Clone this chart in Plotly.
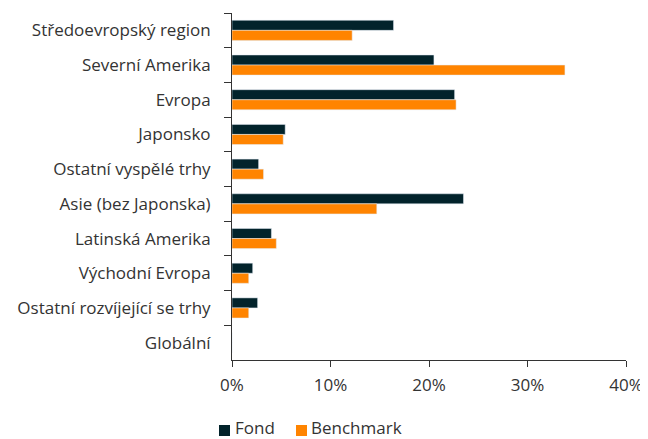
import plotly.graph_objects as go

categories = ["Středoevropský region", "Severní Amerika", "Evropa", "Japonsko",
              "Ostatní vyspělé trhy", "Asie (bez Japonska)", "Latinská Amerika",
              "Východní Evropa", "Ostatní rozvíjející se trhy", "Globální"]
fond = [16.4, 20.5, 22.6, 5.4, 2.7, 23.5, 4.0, 2.1, 2.6, 0.0]
benchmark = [12.2, 33.8, 22.75, 5.2, 3.2, 14.7, 4.5, 1.7, 1.7, 0.0]
x_ticks = [0, 10, 20, 30, 40]
x_labels = ["0%", "10%", "20%", "30%", "40%"]
series_names = ["Fond", "Benchmark"]
series_colors = ["#02232B", "#FF8400"]

FONT = "Open Sans"
FS = 17

fig = go.Figure()
fig.add_trace(go.Bar(y=categories, x=fond, name=series_names[0], orientation="h",
                     marker=dict(color=series_colors[0])))
fig.add_trace(go.Bar(y=categories, x=benchmark, name=series_names[1], orientation="h",
                     marker=dict(color=series_colors[1])))

# page has an 8px body margin: size the figure to fill the rest of the window
OFF = 8
W, H = 648 - OFF, 439 - OFF
# plot area in page pixels
X0, X1, Y0, Y1 = 232, 626, 13, 360
L, R, T, B = X0 - OFF, (W + OFF) - X1, Y0 - OFF, (H + OFF) - Y1
pw, ph = X1 - X0, Y1 - Y0


def px(xp):
    return (xp - X0) / pw


def py(yp):
    return (Y1 - yp) / ph


# custom legend (small squares close to text, as in the reference)
legend_items = [(219, 234), (296, 310)]
for (sq_x, tx), name, col in zip(legend_items, series_names, series_colors):
    fig.add_shape(type="rect", xref="paper", yref="paper",
                  x0=px(sq_x), x1=px(sq_x + 11), y0=py(425), y1=py(436),
                  fillcolor=col, line=dict(width=0))
    fig.add_annotation(xref="paper", yref="paper", x=px(tx), y=py(428),
                       xanchor="left", yanchor="middle", text=name, showarrow=False,
                       borderpad=0,
                       font=dict(family=FONT, size=FS, color="#333333"))

fig.update_layout(
    width=W, height=H,
    margin=dict(l=L, r=R, t=T, b=B, autoexpand=False),
    barmode="group", bargap=0.42, bargroupgap=0,
    plot_bgcolor="white", paper_bgcolor="white",
    font=dict(family=FONT, size=FS, color="#333333"),
    showlegend=False,
    xaxis=dict(range=[0, 40], tickvals=x_ticks, ticktext=x_labels,
               showgrid=False, zeroline=False, showline=True, linecolor="#333333",
               linewidth=1, ticks="outside", ticklen=6, tickcolor="#333333",
               ticklabelstandoff=4, automargin=False, tickfont=dict(size=FS)),
    yaxis=dict(autorange="reversed", showgrid=False, showline=True,
               linecolor="#333333", linewidth=1, ticks="outside", ticklen=7,
               tickcolor="#333333", tickson="boundaries", ticklabelstandoff=17,
               automargin=False, tickfont=dict(size=FS)),
)

fig.write_html("out.html")
